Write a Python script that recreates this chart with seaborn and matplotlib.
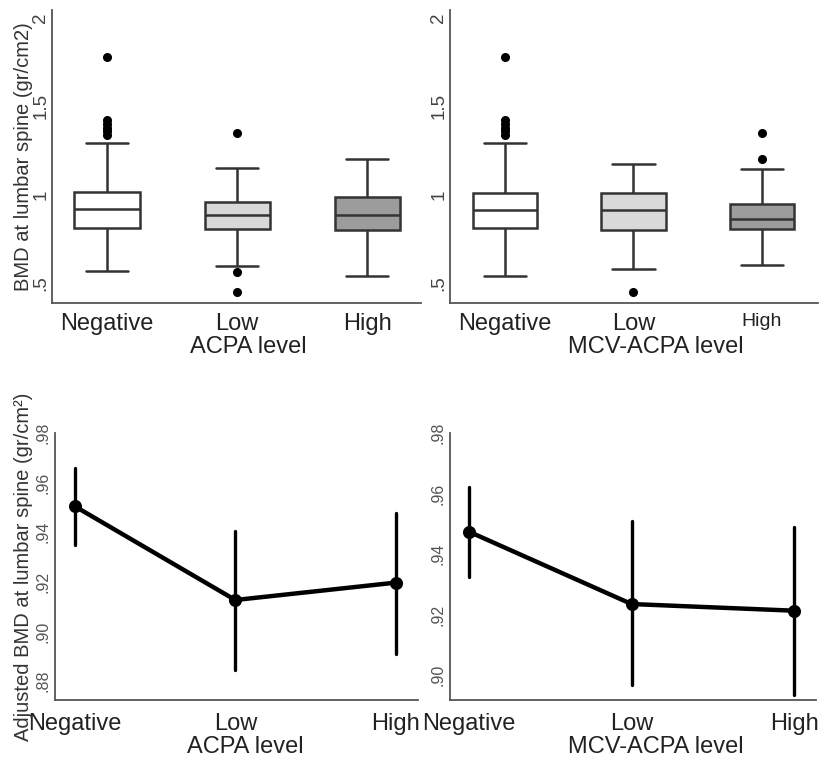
import numpy as np
import pandas as pd
import matplotlib
matplotlib.use("Agg")
import matplotlib.pyplot as plt
import seaborn as sns

sns.set_style("white")
plt.rcParams["font.family"] = ["Liberation Sans", "DejaVu Sans"]

# ---------------- data ----------------
levels = ["Negative", "Low", "High"]

# box summaries (top panels): whisker low, Q1, median, Q3, whisker high, outliers
acpa_whislo = [0.570, 0.597, 0.540]
acpa_q1 = [0.813, 0.805, 0.800]
acpa_med = [0.919, 0.885, 0.885]
acpa_q3 = [1.017, 0.960, 0.989]
acpa_whishi = [1.291, 1.149, 1.200]
acpa_outliers = [[1.34, 1.36, 1.38, 1.40, 1.42, 1.78], [0.45, 0.56, 1.35], []]

mcv_whislo = [0.540, 0.578, 0.602]
mcv_q1 = [0.810, 0.800, 0.804]
mcv_med = [0.913, 0.913, 0.862]
mcv_q3 = [1.008, 1.008, 0.945]
mcv_whishi = [1.291, 1.174, 1.145]
mcv_outliers = [[1.34, 1.36, 1.38, 1.40, 1.42, 1.78], [0.45], [1.20, 1.35]]

# adjusted means with confidence limits (bottom panels)
acpa_adj_mean = [0.9504, 0.9127, 0.9197]
acpa_adj_lo = [0.9348, 0.8844, 0.8911]
acpa_adj_hi = [0.9657, 0.9404, 0.9477]

mcv_adj_mean = [0.9474, 0.9235, 0.9213]
mcv_adj_lo = [0.9325, 0.8966, 0.8935]
mcv_adj_hi = [0.9621, 0.9510, 0.9490]

box_colors = ["#ffffff", "#d9d9d9", "#9c9c9c"]


def box_table(whislo, q1, med, q3, whishi, outliers):
    """Build a sample per group whose quartiles/whiskers reproduce the summary."""
    rows = []
    for i, lev in enumerate(levels):
        outs = outliers[i]
        lo_out = sorted(o for o in outs if o < q1[i])
        hi_out = sorted(o for o in outs if o > q3[i])
        k = max(len(lo_out), len(hi_out)) + 1
        vals = (lo_out + [whislo[i]] + [q1[i]] * (k - 1 - len(lo_out))
                + [q1[i]] + [med[i]] * (k - 1) + [med[i]] + [med[i]] * (k - 1)
                + [q3[i]] + [q3[i]] * (k - 1 - len(hi_out)) + [whishi[i]] + hi_out)
        rows += [(lev, v) for v in vals]
    return pd.DataFrame(rows, columns=["level", "bmd"])


def point_table(mean, lo, hi):
    rows = []
    for i, lev in enumerate(levels):
        rows += [(lev, lo[i]), (lev, mean[i]), (lev, hi[i])]
    return pd.DataFrame(rows, columns=["level", "bmd"])


W, H = 826, 762
fig = plt.figure(figsize=(W / 100, H / 100), dpi=100)


def add_ax(x0, x1, y0, y1):
    return fig.add_axes([x0 / W, 1 - y1 / H, (x1 - x0) / W, (y1 - y0) / H])


ax_tl = add_ax(52, 421, 10, 303)
ax_tr = add_ax(450, 818, 10, 303)
ax_bl = add_ax(55, 418, 433, 700)
ax_br = add_ax(450, 816, 433, 700)

spine_col = "#555555"
edge_col = "#333333"


def style_axes(ax):
    for s in ["top", "right"]:
        ax.spines[s].set_visible(False)
    for s in ["left", "bottom"]:
        ax.spines[s].set_color(spine_col)
        ax.spines[s].set_linewidth(1.3)


def draw_box(ax, table, xlim):
    kw = dict(data=table, x="level", y="bmd", order=levels, hue="level",
              hue_order=levels, palette=box_colors, legend=False, width=0.5,
              linecolor=edge_col, linewidth=1.8, whis=1.5,
              flierprops=dict(marker="o", markerfacecolor="black",
                              markeredgecolor="black", markersize=5.5), ax=ax)
    try:
        sns.boxplot(capwidths=0.33, **kw)
    except Exception:
        ax.cla()
        sns.boxplot(**kw)
    style_axes(ax)
    ax.set_xlim(*xlim)
    ax.set_ylim(0.387, 2.045)
    ax.set_yticks([0.5, 1.0, 1.5, 2.0])
    ax.set_yticklabels([".5", "1", "1.5", "2"], rotation=90, va="center",
                       fontsize=13.5, color="#444444")
    ax.tick_params(axis="y", length=0, pad=2)
    ax.tick_params(axis="x", length=0, pad=7, labelsize=17, labelcolor="#222222")
    ax.set_xlabel("")
    ax.set_ylabel("")


draw_box(ax_tl, box_table(acpa_whislo, acpa_q1, acpa_med, acpa_q3, acpa_whishi,
                          acpa_outliers), (-0.423, 2.415))
draw_box(ax_tr, box_table(mcv_whislo, mcv_q1, mcv_med, mcv_q3, mcv_whishi,
                          mcv_outliers), (-0.428, 2.436))
ax_tr.get_xticklabels()[2].set_fontsize(14)

ax_tl.set_ylabel("BMD at lumbar spine (gr/cm2)", fontsize=14.5, color="#333333")
ax_tl.yaxis.set_label_coords(-0.052, 0.5)
ax_tl.set_xlabel("ACPA level", fontsize=17, color="#222222")
ax_tl.xaxis.set_label_coords(0.531, -0.113)
ax_tr.set_xlabel("MCV-ACPA level", fontsize=17, color="#222222")
ax_tr.xaxis.set_label_coords(0.56, -0.113)


def draw_points(ax, table, xlim, ylim, yt):
    sns.pointplot(data=table, x="level", y="bmd", order=levels,
                  estimator="median", errorbar=("pi", 100), color="black",
                  linewidth=3.2, markersize=7, err_kws={"linewidth": 2.4},
                  ax=ax)
    style_axes(ax)
    ax.set_xlim(*xlim)
    ax.set_ylim(*ylim)
    ax.set_yticks(yt)
    ax.set_yticklabels(["." + f"{v:.2f}".split(".")[1] for v in yt], rotation=90,
                       va="center", fontsize=11.5, color="#555555")
    ax.tick_params(axis="y", length=2, color=spine_col, pad=1)
    ax.tick_params(axis="x", length=3.5, width=1.0, color=spine_col, pad=6,
                   labelsize=17, labelcolor="#222222")
    ax.set_xlabel("")
    ax.set_ylabel("")


draw_points(ax_bl, point_table(acpa_adj_mean, acpa_adj_lo, acpa_adj_hi),
            (-0.125, 2.14), (0.8724, 0.98), [0.88, 0.90, 0.92, 0.94, 0.96, 0.98])
draw_points(ax_br, point_table(mcv_adj_mean, mcv_adj_lo, mcv_adj_hi),
            (-0.117, 2.135), (0.8918, 0.98), [0.90, 0.92, 0.94, 0.96, 0.98])

ax_bl.set_ylabel("Adjusted BMD at lumbar spine (gr/cm²)", fontsize=14.5,
                 color="#333333")
ax_bl.yaxis.set_label_coords(-0.06, 0.5)
ax_bl.set_xlabel("ACPA level", fontsize=17, color="#222222")
ax_bl.xaxis.set_label_coords(0.523, -0.135)
ax_br.set_xlabel("MCV-ACPA level", fontsize=17, color="#222222")
ax_br.xaxis.set_label_coords(0.563, -0.135)

fig.savefig("out.png", dpi=100, facecolor="white")
